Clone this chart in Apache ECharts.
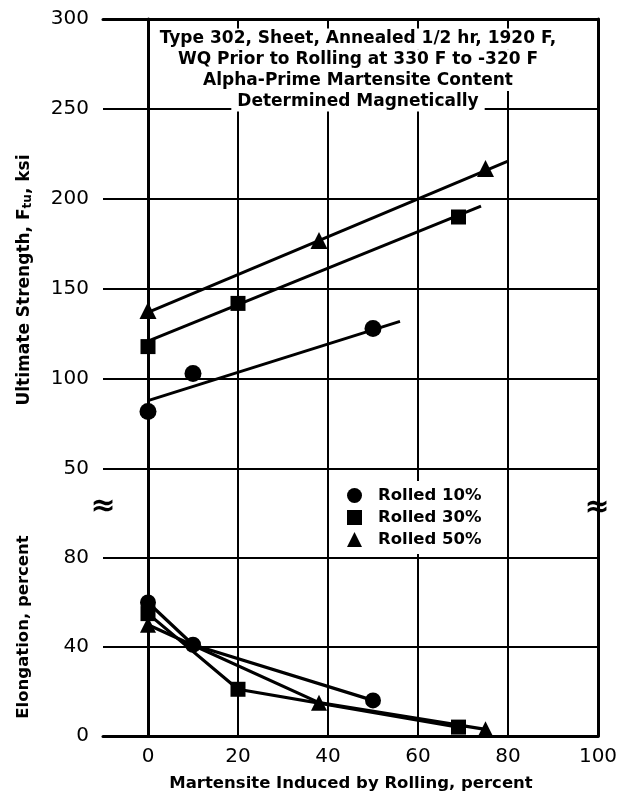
<!DOCTYPE html>
<html>
<head>
<meta charset="utf-8">
<script src="https://cdn.jsdelivr.net/npm/echarts@6/dist/echarts.min.js"></script>
<style>
html,body{margin:0;padding:0;background:#fff;}
#chart{width:631px;height:798px;}
</style>
</head>
<body>
<div id="chart"></div>
<script>
// ---- data ----
const seriesNames = ['Rolled 10%', 'Rolled 30%', 'Rolled 50%'];
const symbols = ['circle', 'rect', 'triangle'];
// Ultimate strength, ksi  [martensite %, Ftu]
const strength10 = [[0, 82], [10, 103], [50, 128]];
const strength30 = [[0, 118], [20, 142], [69, 190]];
const strength50 = [[0, 138], [38, 177], [75, 217]];
// fitted lines through strength data
const fit10 = [[0, 88], [56, 132]];
const fit30 = [[0, 121], [74, 196]];
const fit50 = [[0, 137], [80, 221]];
// Elongation, percent
const elong10 = [[0, 60], [10, 41], [50, 16]];
const elong30 = [[0, 55], [20, 21], [69, 4]];
const elong50 = [[0, 50], [38, 15], [75, 3]];
// axes
const xTickLabels = [0, 20, 40, 60, 80, 100];
const xGridLines = [0, 20, 40, 60, 80];
const titleLines = [
  'Type 302, Sheet, Annealed 1/2 hr, 1920 F,',
  'WQ Prior to Rolling at 330 F to -320 F',
  'Alpha-Prime Martensite Content',
  'Determined Magnetically'
];

const FONT = 'DejaVu Sans';
const chart = echarts.init(document.getElementById('chart'), null, {renderer: 'canvas'});

const G_LEFT = 103, G_W = 495;
const grids = [
  {left: G_LEFT, top: 19, width: G_W, height: 450},
  {left: G_LEFT, top: 469, width: G_W, height: 267}
];

const axisLineStyle = {show: true, lineStyle: {color: '#000', width: 3}};
const splitStyle = {show: true, lineStyle: {color: '#000', width: 2}};
const yLabel = {color: '#000', fontFamily: FONT, fontSize: 20, margin: 14};

const vGrid = {
  silent: true, symbol: ['none', 'none'], animation: false,
  label: {show: false},
  lineStyle: {color: '#000', width: 2, type: 'solid'},
  emphasis: {disabled: true},
  data: xGridLines.map(v => ({xAxis: v}))
};

function scatter(name, sym, data, size) {
  return {
    name, type: 'scatter', xAxisIndex: 0, yAxisIndex: 0,
    symbol: sym, symbolSize: size, data,
    itemStyle: {color: '#000', opacity: 1}, z: 5
  };
}
function fit(data) {
  return {
    type: 'line', xAxisIndex: 0, yAxisIndex: 0, data,
    showSymbol: false, symbol: 'none',
    lineStyle: {color: '#000', width: 3}, z: 4
  };
}
function elong(name, sym, data, size) {
  return {
    name: name + ' elong', type: 'line', xAxisIndex: 1, yAxisIndex: 2,
    data, symbol: sym, symbolSize: size, showSymbol: true,
    itemStyle: {color: '#000', opacity: 1},
    lineStyle: {color: '#000', width: 3.2}, z: 4
  };
}

const series = [
  fit(fit10), fit(fit30), fit(fit50),
  scatter(seriesNames[0], symbols[0], strength10, 17),
  scatter(seriesNames[1], symbols[1], strength30, 15),
  scatter(seriesNames[2], symbols[2], strength50, 17),
  elong(seriesNames[0], symbols[0], elong10, 16),
  elong(seriesNames[1], symbols[1], elong30, 15),
  elong(seriesNames[2], symbols[2], elong50, 16)
];
series[0].markLine = vGrid;
series[6].markLine = Object.assign({}, vGrid);

const graphics = [];
titleLines.forEach((t, i) => {
  graphics.push({
    type: 'text', x: 358, y: 39 + i * 20.7, z: 100,
    style: {
      text: t, align: 'center', verticalAlign: 'middle',
      font: 'bold 17px "DejaVu Sans"', fill: '#000',
      backgroundColor: '#fff', padding: [2, 6]
    }
  });
});
graphics.push({
  type: 'text', x: 25, y: 280, rotation: Math.PI / 2, z: 100,
  style: {
    text: 'Ultimate Strength, F{sub|tu}, ksi', align: 'center', verticalAlign: 'middle',
    fontFamily: FONT, fontWeight: 'bold', fontSize: 17, fill: '#000',
    rich: {sub: {fontFamily: FONT, fontWeight: 'bold', fontSize: 12, verticalAlign: 'bottom', lineHeight: 12, fill: '#000'}}
  }
});
graphics.push({
  type: 'text', x: 24, y: 627, rotation: Math.PI / 2, z: 100,
  style: {
    text: 'Elongation, percent', align: 'center', verticalAlign: 'middle',
    font: 'bold 16.5px "DejaVu Sans"', fill: '#000'
  }
});
graphics.push({
  type: 'text', x: 351, y: 784, z: 100,
  style: {
    text: 'Martensite Induced by Rolling, percent', align: 'center', verticalAlign: 'middle',
    font: 'bold 16.5px "DejaVu Sans"', fill: '#000'
  }
});
[[103, 507], [597, 508]].forEach(p => {
  graphics.push({
    type: 'text', x: p[0], y: p[1], z: 100,
    style: {text: '≈', align: 'center', verticalAlign: 'middle', font: 'bold 30px "DejaVu Sans"', fill: '#000'}
  });
});

chart.setOption({
  animation: false,
  backgroundColor: '#fff',
  grid: grids,
  legend: {
    data: seriesNames, orient: 'vertical', left: 339, top: 481,
    itemWidth: 15, itemHeight: 15, itemGap: 5,
    padding: [6, 8], backgroundColor: '#fff', selectedMode: false,
    textStyle: {color: '#000', fontFamily: FONT, fontWeight: 'bold', fontSize: 16.5, padding: [0, 0, 0, 11]},
    z: 50
  },
  xAxis: [
    {type: 'value', gridIndex: 0, position: 'top', min: -10, max: 100, interval: 10,
     axisLine: axisLineStyle, axisTick: {show: false}, axisLabel: {show: false}, splitLine: {show: false}},
    {type: 'value', gridIndex: 1, position: 'bottom', min: -10, max: 100, interval: 10,
     axisLine: axisLineStyle, axisTick: {show: false}, splitLine: {show: false},
     axisLabel: {color: '#000', fontFamily: FONT, fontSize: 20, margin: 11,
       formatter: v => (xTickLabels.indexOf(v) >= 0 ? String(v) : '')}}
  ],
  yAxis: [
    {type: 'value', gridIndex: 0, min: 50, max: 300, interval: 50,
     axisLine: axisLineStyle, axisTick: {show: false}, axisLabel: yLabel, splitLine: splitStyle},
    {type: 'value', gridIndex: 0, position: 'right', min: 50, max: 300, interval: 50,
     axisLine: axisLineStyle, axisTick: {show: false}, axisLabel: {show: false}, splitLine: {show: false}},
    {type: 'value', gridIndex: 1, min: 0, max: 120, interval: 40,
     axisLine: axisLineStyle, axisTick: {show: false},
     axisLabel: Object.assign({}, yLabel, {formatter: v => (v < 120 ? String(v) : '')}),
     splitLine: splitStyle},
    {type: 'value', gridIndex: 1, position: 'right', min: 0, max: 120, interval: 40,
     axisLine: axisLineStyle, axisTick: {show: false}, axisLabel: {show: false}, splitLine: {show: false}}
  ],
  graphic: graphics,
  series
});
</script>
</body>
</html>
